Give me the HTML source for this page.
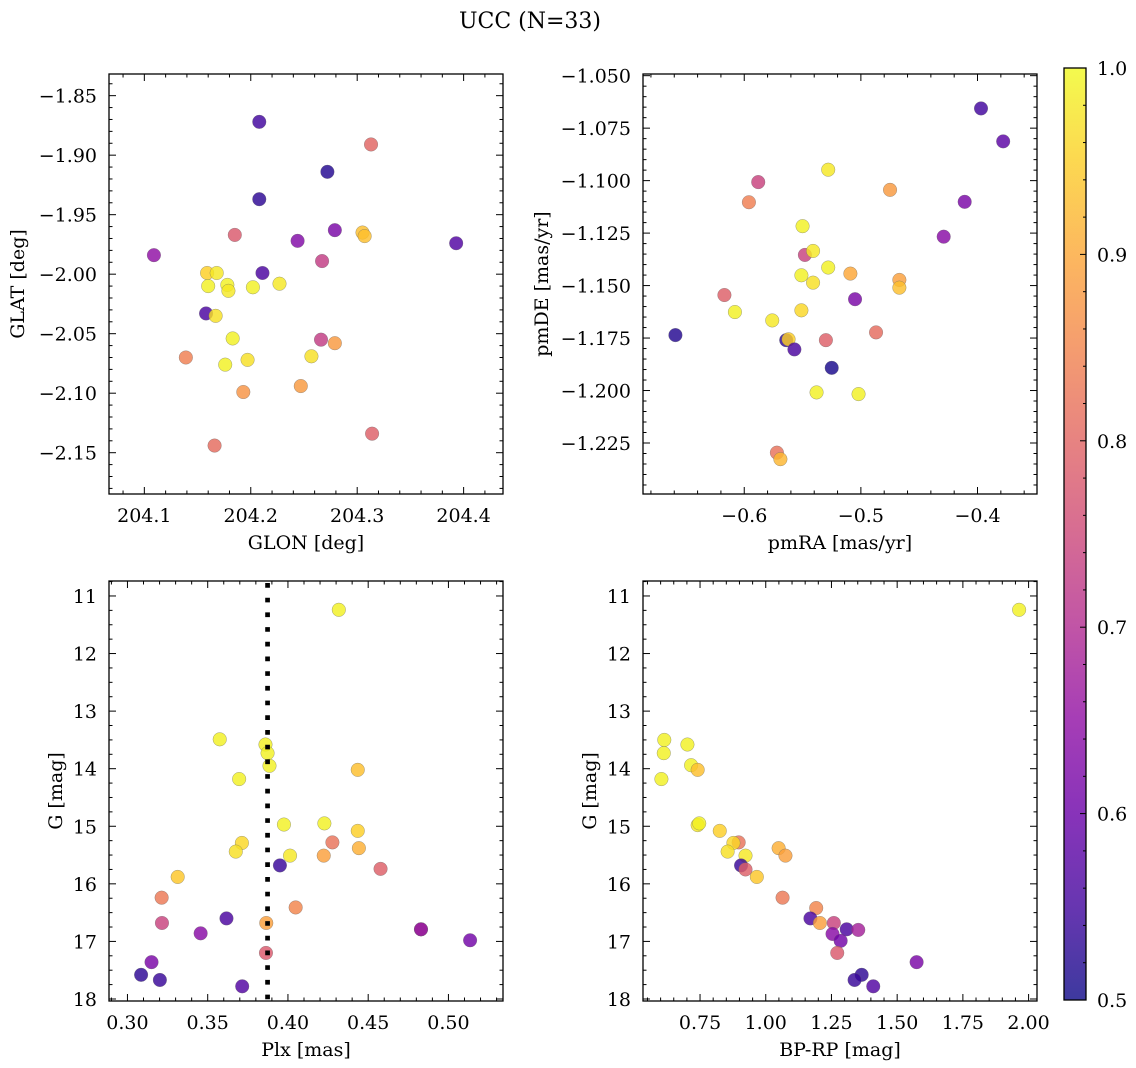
<!DOCTYPE html>
<html><head><meta charset="utf-8">
<style>
html,body{margin:0;padding:0;background:#fff;}
svg{display:block;font-family:"DejaVu Serif","Liberation Serif",serif;}
</style></head>
<body>
<svg id="fig" width="1136" height="1068" viewBox="0 0 1136 1068" xmlns="http://www.w3.org/2000/svg">
<defs>
<linearGradient id="plasma" x1="0" y1="1" x2="0" y2="0">
<stop offset="0" stop-color="#0d0887" stop-opacity="0.8"/>
<stop offset="0.1" stop-color="#41049d" stop-opacity="0.8"/>
<stop offset="0.2" stop-color="#6a00a8" stop-opacity="0.8"/>
<stop offset="0.3" stop-color="#8f0da4" stop-opacity="0.8"/>
<stop offset="0.4" stop-color="#b12a90" stop-opacity="0.8"/>
<stop offset="0.5" stop-color="#cc4778" stop-opacity="0.8"/>
<stop offset="0.6" stop-color="#e16462" stop-opacity="0.8"/>
<stop offset="0.7" stop-color="#f2844b" stop-opacity="0.8"/>
<stop offset="0.8" stop-color="#fca636" stop-opacity="0.8"/>
<stop offset="0.9" stop-color="#fcce25" stop-opacity="0.8"/>
<stop offset="1" stop-color="#f0f921" stop-opacity="0.8"/>
</linearGradient>
</defs>
<text x="530" y="28" font-size="22" text-anchor="middle">UCC (N=33)</text>
</svg>
<script>
// ---- Panel 1: GLON vs GLAT ----
const glon1 = [204.208,204.313,204.272,204.208,204.185,204.244,204.279,204.305,204.307,204.393,204.109,204.267,204.159,204.168,204.211,204.160,204.178,204.179,204.202,204.227,204.158,204.167,204.183,204.266,204.279,204.139,204.257,204.176,204.197,204.247,204.193,204.314,204.166];
const glat1 = [-1.872,-1.891,-1.914,-1.937,-1.967,-1.972,-1.963,-1.965,-1.968,-1.974,-1.984,-1.989,-1.999,-1.999,-1.999,-2.010,-2.009,-2.014,-2.011,-2.008,-2.033,-2.035,-2.054,-2.055,-2.058,-2.070,-2.069,-2.076,-2.072,-2.094,-2.099,-2.134,-2.144];
const prob1 = [0.55,0.80,0.52,0.53,0.78,0.63,0.62,0.93,0.93,0.57,0.65,0.73,0.95,0.98,0.56,0.99,0.99,0.98,0.99,0.98,0.56,0.97,0.99,0.73,0.88,0.84,0.97,0.99,0.97,0.88,0.87,0.79,0.81];
const ticks1x = [204.1,204.2,204.3,204.4];
const ticks1y = [-1.85,-1.90,-1.95,-2.00,-2.05,-2.10,-2.15];
// ---- Panel 2: pmRA vs pmDE ----
const pmra2 = [-0.397,-0.378,-0.528,-0.588,-0.475,-0.596,-0.411,-0.550,-0.429,-0.548,-0.541,-0.528,-0.551,-0.509,-0.541,-0.467,-0.467,-0.617,-0.505,-0.608,-0.551,-0.576,-0.659,-0.487,-0.564,-0.562,-0.557,-0.530,-0.525,-0.538,-0.502,-0.572,-0.569];
const pmde2 = [-1.0656,-1.0813,-1.0948,-1.1007,-1.1044,-1.1103,-1.1101,-1.1217,-1.1267,-1.1354,-1.1335,-1.1414,-1.1451,-1.1443,-1.1486,-1.1473,-1.1510,-1.1545,-1.1565,-1.1626,-1.1618,-1.1666,-1.1736,-1.1723,-1.1760,-1.1756,-1.1804,-1.1760,-1.1892,-1.2009,-1.2017,-1.2296,-1.2327];
const prob2 = [0.55,0.58,0.98,0.74,0.88,0.84,0.62,0.99,0.64,0.74,0.98,0.99,0.99,0.90,0.97,0.89,0.93,0.79,0.62,0.99,0.96,0.98,0.52,0.81,0.53,0.95,0.56,0.79,0.51,0.99,0.99,0.82,0.92];
const ticks2x = [-0.6,-0.5,-0.4];
const ticks2y = [-1.050,-1.075,-1.100,-1.125,-1.150,-1.175,-1.200,-1.225];
// ---- Panel 3: Plx vs G ----
const plx3 = [0.4317,0.3575,0.3860,0.3873,0.3885,0.4435,0.3696,0.3975,0.4227,0.4435,0.3713,0.4277,0.3675,0.4013,0.4442,0.4223,0.3950,0.4577,0.3313,0.3213,0.4048,0.3215,0.3617,0.3865,0.3456,0.4829,0.4829,0.5135,0.3863,0.3150,0.3085,0.3202,0.3715];
const g3 = [11.24,13.49,13.58,13.73,13.95,14.02,14.18,14.97,14.95,15.08,15.29,15.28,15.44,15.51,15.38,15.51,15.68,15.74,15.88,16.24,16.41,16.68,16.60,16.68,16.86,16.79,16.79,16.98,17.20,17.36,17.58,17.67,17.78];
const prob3 = [0.99,0.99,0.99,0.99,0.99,0.93,0.99,0.99,0.99,0.95,0.96,0.82,0.97,0.98,0.91,0.89,0.54,0.79,0.94,0.83,0.85,0.74,0.56,0.89,0.64,0.56,0.68,0.61,0.78,0.62,0.53,0.54,0.57];
const plxMedian = 0.3873;
const ticks3x = [0.30,0.35,0.40,0.45,0.50];
const ticksGy = [11,12,13,14,15,16,17,18];
// ---- Panel 4: BP-RP vs G ----
const bprp4 = [1.964,0.614,0.702,0.612,0.716,0.741,0.603,0.741,0.747,0.825,0.897,0.877,0.855,0.923,1.049,1.075,0.906,0.923,0.966,1.064,1.192,1.259,1.170,1.206,1.254,1.308,1.352,1.285,1.272,1.574,1.365,1.338,1.409];
const g4 = [11.24,13.50,13.58,13.73,13.94,14.02,14.18,14.98,14.95,15.08,15.28,15.29,15.44,15.51,15.38,15.51,15.68,15.75,15.88,16.24,16.42,16.68,16.60,16.68,16.87,16.79,16.80,16.99,17.20,17.36,17.58,17.67,17.78];
const prob4 = [0.99,0.99,0.99,0.99,0.99,0.93,0.99,0.98,0.99,0.95,0.82,0.96,0.97,0.98,0.91,0.89,0.54,0.79,0.94,0.83,0.85,0.74,0.56,0.89,0.64,0.56,0.68,0.61,0.78,0.62,0.53,0.54,0.57];
const ticks4x = [0.75,1.00,1.25,1.50,1.75,2.00];
// ---- Colorbar ----
const cbTicks = [0.5,0.6,0.7,0.8,0.9,1.0];

const NS = "http://www.w3.org/2000/svg";
const svg = document.getElementById('fig');
const FS = 19;
const plasmaStops = ["#0d0887","#41049d","#6a00a8","#8f0da4","#b12a90","#cc4778","#e16462","#f2844b","#fca636","#fcce25","#f0f921"];
function hex(h){return [parseInt(h.slice(1,3),16),parseInt(h.slice(3,5),16),parseInt(h.slice(5,7),16)];}
function cmap(p){
  let t=(p-0.5)/0.5; t=Math.max(0,Math.min(1,t));
  const f=t*10, i=Math.min(9,Math.floor(f)), r=f-i;
  const a=hex(plasmaStops[i]), b=hex(plasmaStops[i+1]);
  return 'rgb('+a.map((v,k)=>Math.round(v+(b[k]-v)*r)).join(',')+')';
}
function mk(tag, attrs, parent){
  const e=document.createElementNS(NS,tag);
  for(const k in attrs) e.setAttribute(k,attrs[k]);
  (parent||svg).appendChild(e); return e;
}
function fmt(v,d){const s=Math.abs(v).toFixed(d);return (v<0?'\u2212':'')+s;}

function panel(cfg){
  const g=mk('g',{});
  
  
  const L=cfg.box[0],T=cfg.box[1],R=cfg.box[2],B=cfg.box[3];
  const sx=v=>L+(v-cfg.xr[0])/(cfg.xr[1]-cfg.xr[0])*(R-L);
  const sy=v=>cfg.yinv ? T+(v-cfg.yr[0])/(cfg.yr[1]-cfg.yr[0])*(B-T) : B-(v-cfg.yr[0])/(cfg.yr[1]-cfg.yr[0])*(B-T);
  for(let i=0;i<cfg.xs.length;i++){
    const c=mk('circle',{cx:sx(cfg.xs[i]),cy:sy(cfg.ys[i]),r:6.8,fill:cmap(cfg.ps[i]),'fill-opacity':0.82,stroke:'#666','stroke-width':0.5,'stroke-opacity':0.6},g);
    
    
  }
  if(cfg.vline!==undefined){
    const l=mk('line',{x1:sx(cfg.vline),x2:sx(cfg.vline),y1:T+2,y2:B,stroke:'#000','stroke-width':4.7,'stroke-dasharray':'4.7 10'},g);
    
    
  }
  const fr=mk('rect',{x:L,y:T,width:R-L,height:B-T,fill:'none',stroke:'#000','stroke-width':1.3},g);
  
  
  const xt=cfg.xt, stepx=xt[1]-xt[0], mx=stepx/cfg.xminor;
  for(let v=xt[0]-stepx*3; v<=cfg.xr[1]+1e-9; v+=mx){
    if(v<cfg.xr[0]-1e-9) continue;
    const isMaj = xt.some(t=>Math.abs(t-v)<mx/100);
    const len = isMaj?7:3.5, x=sx(v);
    mk('line',{x1:x,x2:x,y1:B,y2:B-len,stroke:'#000','stroke-width':1},g);
    mk('line',{x1:x,x2:x,y1:T,y2:T+len,stroke:'#000','stroke-width':1},g);
  }
  xt.forEach(v=>{
    const t=mk('text',{x:sx(v),y:B+28,'font-size':FS,'text-anchor':'middle'},g);
    t.textContent=fmt(v,cfg.xd);
    
    
  });
  const yt=cfg.yt, stepy=Math.abs(yt[1]-yt[0]), my=stepy/cfg.yminor;
  const ylo=Math.min(cfg.yr[0],cfg.yr[1]), yhi=Math.max(cfg.yr[0],cfg.yr[1]);
  const ybase=Math.min(...yt);
  for(let v=ybase-stepy*3; v<=yhi+1e-9; v+=my){
    if(v<ylo-1e-9) continue;
    const isMaj = yt.some(t=>Math.abs(t-v)<my/100);
    const len=isMaj?7:3.5, y=sy(v);
    mk('line',{x1:L,x2:L+len,y1:y,y2:y,stroke:'#000','stroke-width':1},g);
    mk('line',{x1:R,x2:R-len,y1:y,y2:y,stroke:'#000','stroke-width':1},g);
  }
  yt.forEach(v=>{
    const t=mk('text',{x:L-12,y:sy(v)+7,'font-size':FS,'text-anchor':'end'},g);
    t.textContent=fmt(v,cfg.yd);
    
    
  });
  const xl=mk('text',{x:(L+R)/2,y:B+55,'font-size':FS,'text-anchor':'middle'},g);
  xl.textContent=cfg.xlabel;
  
  
  const yl=mk('text',{x:0,y:0,'font-size':FS,'text-anchor':'middle',transform:'translate('+cfg.ylx+','+(T+B)/2+') rotate(-90)'},g);
  yl.textContent=cfg.ylabel;
  
  
}

panel({name:'glon-glat-panel',box:[109,74,503,494],xr:[204.0668,204.437],yr:[-2.1847,-1.8318],xs:glon1,ys:glat1,ps:prob1,xt:ticks1x,yt:ticks1y,xminor:5,yminor:5,xd:1,yd:2,xlabel:'GLON [deg]',ylabel:'GLAT [deg]',ylx:24});
panel({name:'pmra-pmde-panel',box:[643,74,1037,494],xr:[-0.6868,-0.349],yr:[-1.2493,-1.0492],xs:pmra2,ys:pmde2,ps:prob2,xt:ticks2x,yt:ticks2y,xminor:5,yminor:5,xd:1,yd:3,xlabel:'pmRA [mas/yr]',ylabel:'pmDE [mas/yr]',ylx:548});
panel({name:'plx-g-panel',box:[109,581,503,1001],xr:[0.2885,0.534],yr:[10.74,18.035],yinv:true,xs:plx3,ys:g3,ps:prob3,vline:plxMedian,xt:ticks3x,yt:ticksGy,xminor:5,yminor:4,xd:2,yd:0,xlabel:'Plx [mas]',ylabel:'G [mag]',ylx:62});
panel({name:'bprp-g-panel',box:[643,581,1037,1001],xr:[0.533,2.032],yr:[10.74,18.035],yinv:true,xs:bprp4,ys:g4,ps:prob4,xt:ticks4x,yt:ticksGy,xminor:5,yminor:4,xd:2,yd:0,xlabel:'BP-RP [mag]',ylabel:'G [mag]',ylx:596});

const cb=mk('g',{});


const CL=1064,CR=1086,CT=68,CB=1000;
mk('rect',{x:CL,y:CT,width:CR-CL,height:CB-CT,fill:'url(#plasma)'},cb);
mk('rect',{x:CL,y:CT,width:CR-CL,height:CB-CT,fill:'none',stroke:'#000','stroke-width':1.3},cb);
const cy=v=>CB-(v-0.5)/0.5*(CB-CT);
for(let v=0.5; v<=1.0001; v+=0.02){
  const maj=cbTicks.some(t=>Math.abs(t-v)<0.001);
  const len=maj?6:3;
  mk('line',{x1:CR,x2:CR-len,y1:cy(v),y2:cy(v),stroke:'#000','stroke-width':1},cb);
}
cbTicks.forEach(v=>{
  const t=mk('text',{x:CR+11,y:cy(v)+7,'font-size':FS},cb);
  t.textContent=v.toFixed(1);
  
  
});
</script>
</body></html>
